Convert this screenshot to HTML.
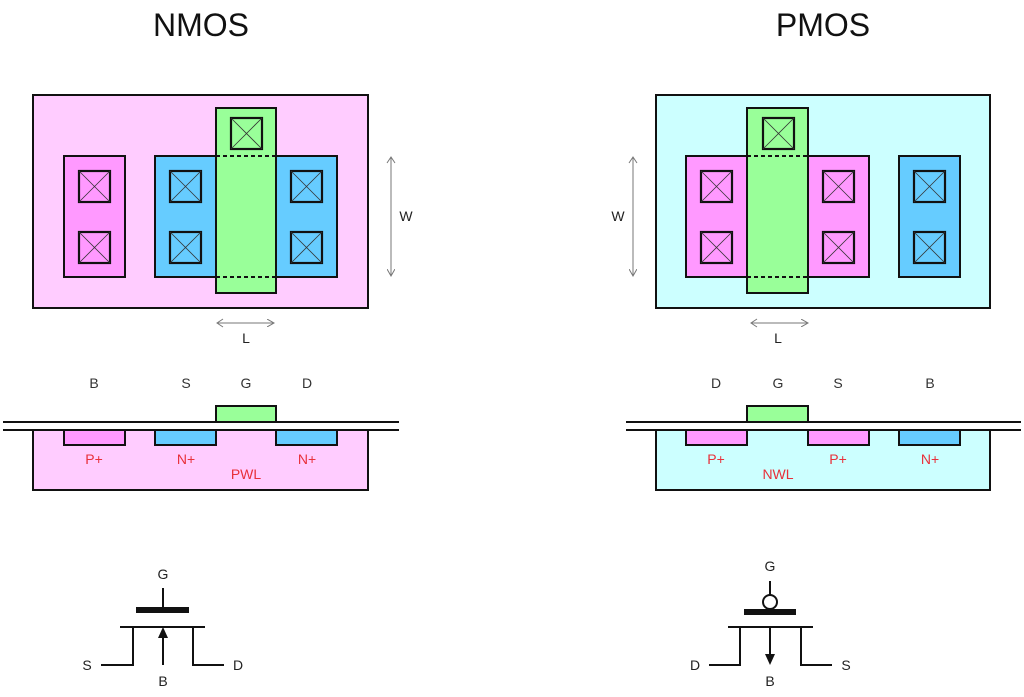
<!DOCTYPE html>
<html><head><meta charset="utf-8"><style>
html,body{margin:0;padding:0;background:#fff;}
svg{display:block;}
text{font-family:"Liberation Sans",sans-serif;}
</style></head><body>
<svg width="1024" height="697" viewBox="0 0 1024 697" xmlns="http://www.w3.org/2000/svg">
<defs>
<g id="ct">
<rect x="0" y="0" width="31" height="31" fill="none" stroke="#111" stroke-width="2.2"/>
<line x1="0" y1="0" x2="31" y2="31" stroke="#333" stroke-width="0.8"/>
<line x1="31" y1="0" x2="0" y2="31" stroke="#333" stroke-width="0.8"/>
</g>
<marker id="ah" markerWidth="8" markerHeight="8" refX="7" refY="4" orient="auto" markerUnits="userSpaceOnUse">
<path d="M0,0 L7,4 L0,8" fill="none" stroke="#777" stroke-width="1"/>
</marker>
</defs>

<text x="201" y="36" font-size="32" text-anchor="middle" fill="#111">NMOS</text>
<text x="823" y="36" font-size="32" text-anchor="middle" fill="#111">PMOS</text>

<!-- NMOS layout -->
<g stroke="#111" stroke-width="2">
<rect x="33" y="95" width="335" height="213" fill="#ffccff"/>
<rect x="64" y="156" width="61" height="121" fill="#ff99ff"/>
<rect x="155" y="156" width="182" height="121" fill="#66ccff"/>
<rect x="216" y="108" width="60" height="185" fill="#99ff99"/>
</g>
<g stroke="#111" stroke-width="2" stroke-dasharray="4,3">
<line x1="216" y1="156" x2="276" y2="156"/><line x1="216" y1="277" x2="276" y2="277"/>
</g>
<use href="#ct" x="79" y="171"/><use href="#ct" x="79" y="232"/>
<use href="#ct" x="170" y="171"/><use href="#ct" x="170" y="232"/>
<use href="#ct" x="291" y="171"/><use href="#ct" x="291" y="232"/>
<use href="#ct" x="231" y="118"/>
<line x1="391" y1="157" x2="391" y2="276" stroke="#777" stroke-width="1" marker-end="url(#ah)"/>
<line x1="217" y1="323" x2="274" y2="323" stroke="#777" stroke-width="1" marker-end="url(#ah)"/>
<path d="M223,319 L217,323 L223,327" fill="none" stroke="#777"/>
<path d="M387,163 L391,157 L395,163" fill="none" stroke="#777"/>
<text x="406" y="221" font-size="14" text-anchor="middle" fill="#222">W</text>
<text x="246" y="343" font-size="14" text-anchor="middle" fill="#222">L</text>

<!-- PMOS layout -->
<g stroke="#111" stroke-width="2">
<rect x="656" y="95" width="334" height="213" fill="#ccffff"/>
<rect x="686" y="156" width="183" height="121" fill="#ff99ff"/>
<rect x="899" y="156" width="61" height="121" fill="#66ccff"/>
<rect x="747" y="108" width="61" height="185" fill="#99ff99"/>
</g>
<g stroke="#111" stroke-width="2" stroke-dasharray="4,3">
<line x1="747" y1="156" x2="808" y2="156"/><line x1="747" y1="277" x2="808" y2="277"/>
</g>
<use href="#ct" x="701" y="171"/><use href="#ct" x="701" y="232"/>
<use href="#ct" x="823" y="171"/><use href="#ct" x="823" y="232"/>
<use href="#ct" x="914" y="171"/><use href="#ct" x="914" y="232"/>
<use href="#ct" x="763" y="118"/>
<line x1="633" y1="157" x2="633" y2="276" stroke="#777" stroke-width="1" marker-end="url(#ah)"/>
<path d="M629,163 L633,157 L637,163" fill="none" stroke="#777"/>
<line x1="751" y1="323" x2="808" y2="323" stroke="#777" stroke-width="1" marker-end="url(#ah)"/>
<path d="M757,319 L751,323 L757,327" fill="none" stroke="#777"/>
<text x="618" y="221" font-size="14" text-anchor="middle" fill="#222">W</text>
<text x="778" y="343" font-size="14" text-anchor="middle" fill="#222">L</text>

<!-- cross-sections -->
<g font-size="14" text-anchor="middle" fill="#333">
<text x="94" y="388">B</text><text x="186" y="388">S</text><text x="246" y="388">G</text><text x="307" y="388">D</text>
<text x="716" y="388">D</text><text x="778" y="388">G</text><text x="838" y="388">S</text><text x="930" y="388">B</text>
</g>
<g stroke="#111" stroke-width="2">
<rect x="33" y="430" width="335" height="60" fill="#ffccff"/>
<rect x="64" y="430" width="61" height="15" fill="#ff99ff"/>
<rect x="155" y="430" width="61" height="15" fill="#66ccff"/>
<rect x="276" y="430" width="61" height="15" fill="#66ccff"/>
<rect x="216" y="406" width="60" height="16" fill="#99ff99"/>
<line x1="3" y1="422" x2="399" y2="422"/><line x1="3" y1="430" x2="399" y2="430"/>
<rect x="656" y="430" width="334" height="60" fill="#ccffff"/>
<rect x="686" y="430" width="61" height="15" fill="#ff99ff"/>
<rect x="808" y="430" width="61" height="15" fill="#ff99ff"/>
<rect x="899" y="430" width="61" height="15" fill="#66ccff"/>
<rect x="747" y="406" width="61" height="16" fill="#99ff99"/>
<line x1="626" y1="422" x2="1021" y2="422"/><line x1="626" y1="430" x2="1021" y2="430"/>
</g>
<g font-size="14" text-anchor="middle" fill="#e8303a">
<text x="94" y="464">P+</text><text x="186" y="464">N+</text><text x="307" y="464">N+</text><text x="246" y="479">PWL</text>
<text x="716" y="464">P+</text><text x="838" y="464">P+</text><text x="930" y="464">N+</text><text x="778" y="479">NWL</text>
</g>

<!-- NMOS symbol -->
<g stroke="#111" stroke-width="2" fill="none">
<line x1="163" y1="588" x2="163" y2="607"/>
<line x1="120" y1="627" x2="205" y2="627"/>
<polyline points="101,665 133,665 133,627"/>
<polyline points="224,665 193,665 193,627"/>
<line x1="163" y1="665" x2="163" y2="636"/>
</g>
<rect x="136" y="607" width="53" height="6" fill="#111"/>
<path d="M158,638 L168,638 L163,627 Z" fill="#111"/>
<g font-size="14" text-anchor="middle" fill="#222">
<text x="163" y="579">G</text><text x="87" y="670">S</text><text x="238" y="670">D</text><text x="163" y="686">B</text>
</g>

<!-- PMOS symbol -->
<g stroke="#111" stroke-width="2" fill="none">
<line x1="770" y1="581" x2="770" y2="595"/>
<circle cx="770" cy="602" r="7"/>
<line x1="728" y1="627" x2="813" y2="627"/>
<polyline points="709,665 740,665 740,627"/>
<polyline points="832,665 801,665 801,627"/>
<line x1="770" y1="627" x2="770" y2="655"/>
</g>
<rect x="744" y="609" width="52" height="6" fill="#111"/>
<path d="M765,654 L775,654 L770,665 Z" fill="#111"/>
<g font-size="14" text-anchor="middle" fill="#222">
<text x="770" y="571">G</text><text x="695" y="670">D</text><text x="846" y="670">S</text><text x="770" y="686">B</text>
</g>
</svg>
</body></html>
